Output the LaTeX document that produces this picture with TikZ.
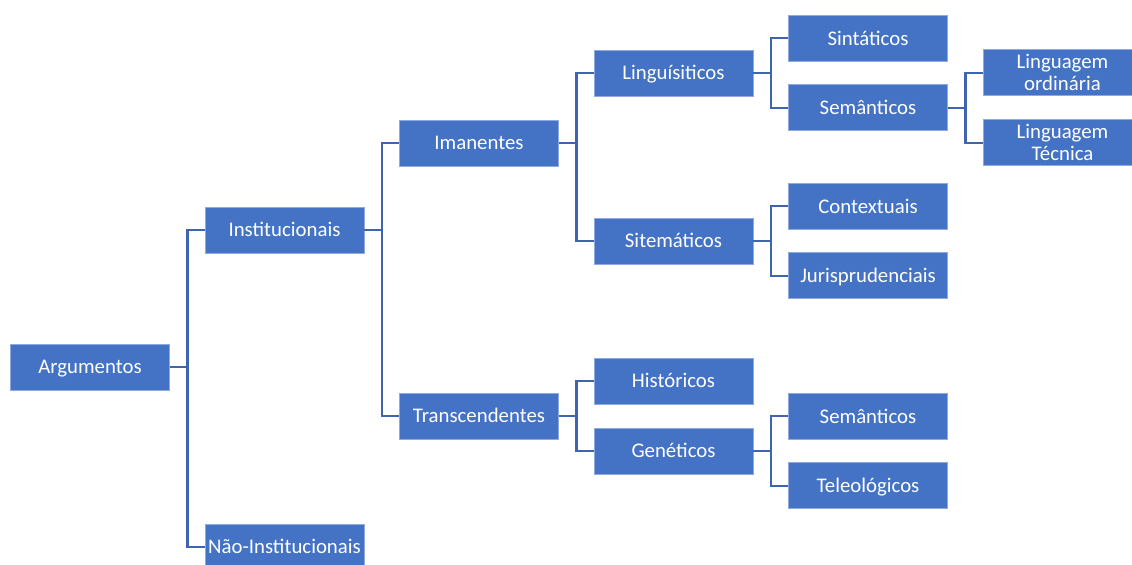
\documentclass[tikz,border=0pt]{standalone}
\usepackage{fontspec}
\setmainfont{Carlito}
\usepackage{tikz}
\definecolor{boxblue}{HTML}{4472C4}
\definecolor{lineblue}{HTML}{3F65AE}
\definecolor{rimblue}{HTML}{8FAADC}
\tikzset{%
  argtree/.style = {
    grow'=right, level distance=97.25pt,
    every node/.style = {shape=rectangle, draw=rimblue, line width=0.4pt,
      fill=boxblue, text=white, align=center,
      minimum width=79.5pt, minimum height=23pt, inner sep=1pt,
      text height=8pt, text depth=1pt,
      font=\fontsize{10.4}{11}\selectfont},
    twolines/.style = {text height={}, text depth={}},
    edge from parent/.style = {draw=lineblue, line width=1.1pt},
    edge from parent path = {(\tikzparentnode.east) -- ++(8.75pt,0)
      |- (\tikzchildnode.west)},
    level 1/.style = {sibling distance=158.5pt},
    level 2/.style = {sibling distance=136.5pt},
    level 3/.style = {sibling distance=84pt},
    level 4/.style = {sibling distance=34.75pt},
    level 5/.style = {sibling distance=35pt}
  }
}

\begin{document}
\begin{tikzpicture}[argtree]
\useasboundingbox (0,0) rectangle (566pt,-282.5pt);
\node (arg) at (45pt,-183.5pt) {Argumentos}
 child[yshift=-10.75pt] {
node (inst) {Institucionais}
 child[yshift=-24.75pt] {
node (iman) {Imanentes}
 child[yshift=-7pt] {
node (ling) {Linguísiticos}
 child {
node (sint) {Sintáticos}
}
 child {
node (sem) {Semânticos}
 child {
node[twolines] (ordi) {Linguagem\\ordinária}
}
 child {
node[twolines] (tecn) {Linguagem\\Técnica}
}
}
}
 child[yshift=-7pt] {
node (sist) {Sitemáticos}
 child {
node (cont) {Contextuais}
}
 child {
node (juri) {Jurisprudenciais}
}
}
}
 child[yshift=-24.75pt] {
node (trans) {Transcendentes}
 child[sibling distance=35pt] {
node (hist) {Históricos}
}
 child[sibling distance=35pt] {
node (gene) {Genéticos}
 child {
node (sem2) {Semânticos}
}
 child {
node (tele) {Teleológicos}
}
}
}
}
 child[yshift=-10.75pt] {
node (nao) {Não-Institucionais}
}
;      \end{tikzpicture}
\end{document}
